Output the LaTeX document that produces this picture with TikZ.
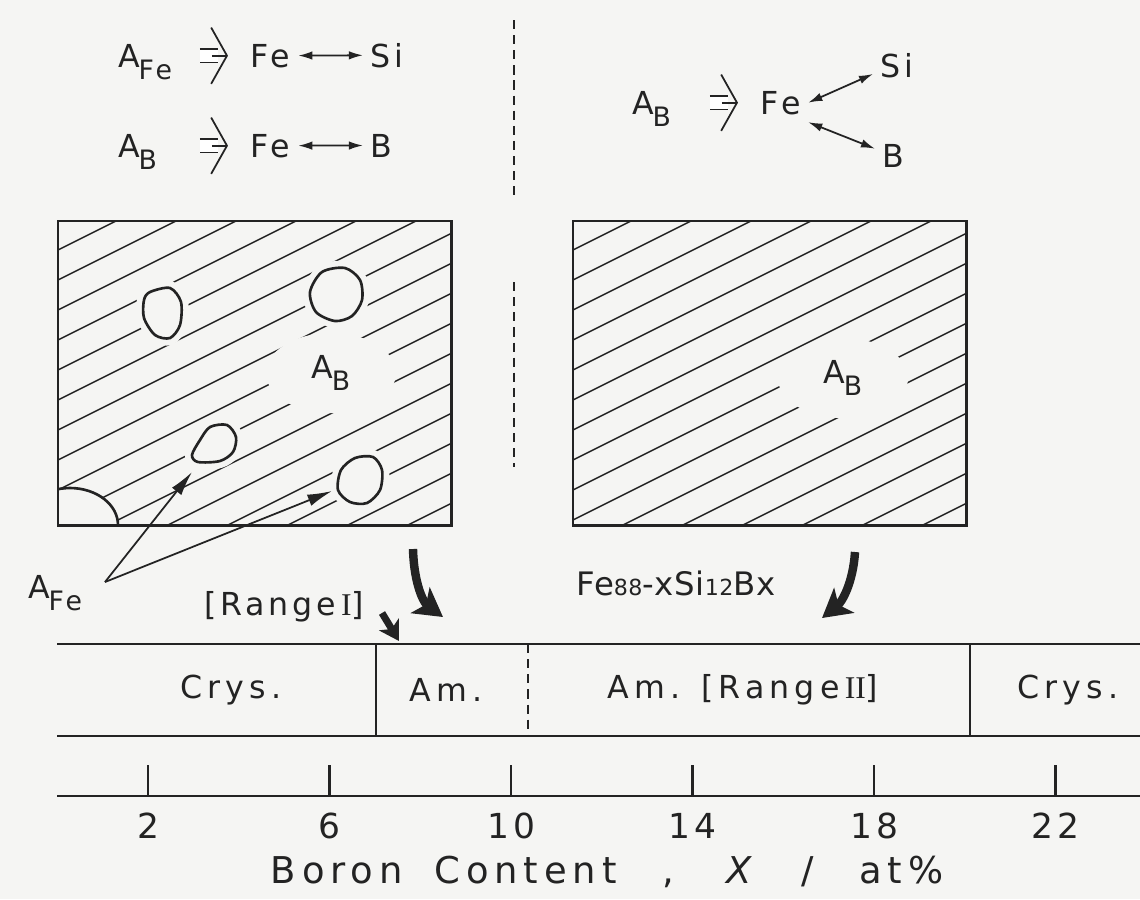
\documentclass[tikz,border=0pt]{standalone}
\usepackage{fontspec}
\setmainfont{DejaVu Sans}[LetterSpace=12]
\newfontfamily\numeral{Liberation Serif}
\usetikzlibrary{arrows.meta,shapes.geometric}
\definecolor{paper}{RGB}{245,245,243}
\definecolor{ink}{RGB}{35,35,35}
\newcommand\lowsub[1]{\kern-0.5pt\raisebox{-3.6pt}{\fontsize{7.6}{8}\selectfont #1}}
\newcommand\smallnum[1]{{\fontsize{6.3}{7}\selectfont #1}}

\begin{document}
\begin{tikzpicture}[x=0.01cm, y=-0.01cm, ink,
        chem/.style={inner sep=2pt, font=\fontsize{9}{10}\selectfont},
        shaft/.style={double, double distance=3.3pt, line width=0.45pt},
        chevron/.style={line width=0.5pt, -{Straight Barb[length=4.5pt, width=16pt]}},
        bond/.style={line width=0.5pt,
                     {Latex[length=4pt, width=2.4pt]}-{Latex[length=4pt, width=2.4pt]}},
        sample/.style={minimum width=3.92cm, minimum height=3.03cm,
                       anchor=north west, inner sep=0pt},
        frame/.style={line width=0.8pt},
        hatch/.style={line width=0.4pt},
        gap/.style={ellipse, fill=paper, minimum width=1.3cm, minimum height=0.8cm,
                    inner sep=0pt, font=\fontsize{9}{10}\selectfont},
        blob/.style={draw, fill=paper, line width=0.75pt,
                     preaction={draw=paper, line width=4pt}},
        divider/.style={line width=0.6pt, dash pattern=on 2.6pt off 1.7pt},
        pointer/.style={line width=0.5pt, -{Latex[length=7pt, width=3.4pt]}},
        bigarrow/.style={line width=2.4pt, -{Stealth[length=8pt, width=9pt, inset=2pt]}},
        smallarrow/.style={line width=2pt, -{Stealth[length=5.5pt, width=6.5pt, inset=1.5pt]}},
        band/.style={line width=0.6pt},
        cell/.style={font=\fontsize{9}{10}\selectfont\addfontfeatures{LetterSpace=16}},
        ticklbl/.style={font=\fontsize{9.8}{11}\selectfont},
        axtitle/.style={font=\fontsize{10.5}{12}\selectfont\addfontfeatures{LetterSpace=16}},
    ]
    \fill[paper] (0,0) rectangle (1140,899);
    \useasboundingbox (0,0) rectangle (1140,899);

    \node[chem, anchor=base west] (afe) at (111,67) {A\lowsub{Fe}};
    \node[chem, anchor=base west] (fe1) at (243,67) {Fe};
    \node[chem, anchor=base west] (si1) at (363,67) {Si};
    \node[chem, anchor=base west] (ab1) at (111,157) {A\lowsub{B}};
    \node[chem, anchor=base west] (fe2) at (243,157) {Fe};
    \node[chem, anchor=base west] (b2) at (363,157) {B};
    \draw[bond] (fe1) -- (si1);
    \draw[bond] (fe2) -- (b2);

    \node[chem, anchor=base west] (ab3) at (625,114) {A\lowsub{B}};
    \node[chem, anchor=base west] (fe3) at (753,114) {Fe};
    \node[chem, anchor=base west] (si3) at (873,77) {Si};
    \node[chem, anchor=base west] (b3) at (875,167) {B};
    \draw[bond] (fe3.east) -- (si3.200);
    \draw[bond] (fe3.south east) -- (b3.160);

    \foreach \fe in {fe1, fe2, fe3}{
        \draw[shaft] ([xshift=-0.43cm]\fe.west) -- ([xshift=-0.25cm]\fe.west);
        \draw[chevron] ([xshift=-0.31cm]\fe.west) -- ([xshift=-0.15cm]\fe.west);
    }

    \draw[divider] (514,20) -- (514,195);
    \draw[divider] (514,282) -- (514,467);

    \node[sample] (boxL) at (58,221) {};
    \node[sample] (boxR) at (573,221) {};
    \foreach \bn/\bx in {boxL/58, boxR/573}{
        \begin{scope}
            \clip (\bn.south west) rectangle (\bn.north east);
            \foreach \k in {-1,...,16}
                \draw[hatch] (\bx-20, 260+30*\k) -- ++(440,-220);
        \end{scope}
    }
    \draw[blob] plot[smooth cycle] coordinates {(150,292) (170,288) (181,302) (180,325)
        (170,338) (155,335) (144,318) (144,300)};
    \draw[blob] plot[smooth cycle] coordinates {(322,272) (345,268) (360,280) (362,300)
        (352,316) (335,321) (316,312) (310,292)};
    \draw[blob] plot[smooth cycle] coordinates {(210,427) (227,425) (236,437) (233,452)
        (220,461) (198,462) (192,455) (200,440)};
    \draw[blob] plot[smooth cycle] coordinates {(355,458) (373,457) (382,470) (380,490)
        (367,503) (350,502) (338,490) (341,470)};
    \begin{scope}
        \clip (boxL.south west) rectangle (boxL.north east);
        \draw[draw, fill=paper, line width=0.75pt] (70,525) ellipse [x radius=48, y radius=37];
    \end{scope}
    \node[gap] (abL) at (331,373) {A\lowsub{B}};
    \node[gap] (abR) at (843,378) {A\lowsub{B}};
    \foreach \bn in {boxL, boxR}
        \draw[frame] (\bn.north west) rectangle (\bn.south east);

    \node[chem, anchor=base west] (afe2) at (21,598) {A\lowsub{Fe}};
    \coordinate (fork) at (105,582);
    \coordinate (tipA) at (192,472);
    \coordinate (tipB) at (332,491);
    \draw[pointer] (fork) -- (tipA);
    \draw[pointer] (fork) -- (tipB);

    \node[chem] (range1) at (284,607) {[Range\,{\numeral I}]};
    \node[chem, font=\fontsize{9.2}{10}\selectfont\addfontfeatures{LetterSpace=2}]
        (alloy) at (676,583) {Fe\smallnum{88}-xSi\smallnum{12}Bx};

    \coordinate (dropL) at (413,549);
    \coordinate (hitL) at (443,617);
    \draw[bigarrow] (dropL) .. controls (414,585) and (424,603) .. (hitL);
    \coordinate (nudge) at (382,613);
    \coordinate (hitI) at (399,641);
    \draw[smallarrow] (nudge) -- (hitI);
    \coordinate (dropR) at (855,552);
    \coordinate (hitR) at (822,618);
    \draw[bigarrow] (dropR) .. controls (853,583) and (842,602) .. (hitR);

    \draw[band] (57,644) -- (1140,644) (57,736) -- (1140,736);
    \draw[band] (376,644) -- (376,736) (970,644) -- (970,736);
    \draw[divider] (528,644) -- (528,736);
    \node[cell] (crysA) at (231,690) {Crys.};
    \node[cell] (amA) at (446,690) {Am.};
    \node[cell] (amB) at (743,690) {Am.\hspace{6pt}[Range\,{\numeral II}]};
    \node[cell] (crysB) at (1068,690) {Crys.};

    \draw[band] (57,796) -- (1140,796);
    \foreach \v in {2,6,...,22}{
        \draw[band] ({57.25+45.375*\v},796) -- ++(0,-31);
        \node[ticklbl] (tick\v) at ({57.25+45.375*\v},826) {\v};
    }
    \node[axtitle] (axis) at (607,872)
        {Boron\hspace{9pt}Content\hspace{13pt},\hspace{15pt}\textit{X}\hspace{12pt}/\hspace{13pt}at\%};
\end{tikzpicture}
\end{document}
